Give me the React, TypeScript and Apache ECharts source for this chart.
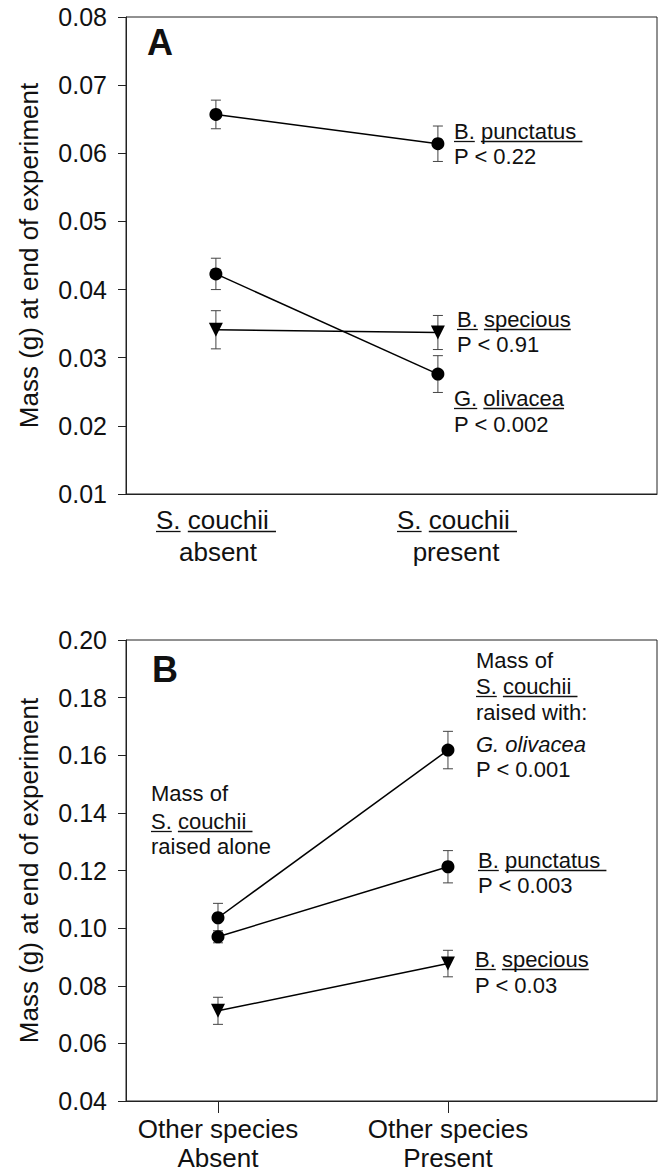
import React, { useEffect, useRef } from "react";
import * as echarts from "echarts";

// ---------- DATA ----------
// Panel A: mass of other species (g), S. couchii absent (x=1) / present (x=2)
const punctatusA = [0.0657, 0.0614];
const punctatusAErr = [0.0021, 0.0026];
const olivaceaA = [0.0423, 0.0276];
const olivaceaAErr = [0.0023, 0.0027];
const speciousA = [0.0341, 0.0337];
const speciousAErr = [0.0028, 0.0025];

// Panel B: mass of S. couchii (g), other species absent (x=1) / present (x=2)
const olivaceaB = [0.1036, 0.1618];
const olivaceaBErr = [0.005, 0.0065];
const punctatusB = [0.097, 0.1213];
const punctatusBErr = [0.0021, 0.0056];
const speciousB = [0.0713, 0.0877];
const speciousBErr = [0.0047, 0.0046];

const categoryX = [1, 2];
const categoriesB = ["Other species\nAbsent", "Other species\nPresent"];
const categoriesA = [
  { genus: "S.", species: "couchii ", state: "absent" },
  { genus: "S.", species: "couchii ", state: "present" },
];
const yTicksA = { min: 0.01, max: 0.08, step: 0.01 };
const yTicksB = { min: 0.04, max: 0.2, step: 0.02 };
const yTitle = "Mass (g) at end of experiment";

const FONT = '"Liberation Sans", Arial, Helvetica, sans-serif';
const INK = "#111";
const ANN = 22;

let ctx: CanvasRenderingContext2D | null = null;
function measure(text: string, font: string): number {
  if (!ctx) ctx = document.createElement("canvas").getContext("2d");
  if (!ctx) return text.length * 10;
  ctx.font = font;
  return ctx.measureText(text).width;
}

function fontStr(size: number, opts: { bold?: boolean; italic?: boolean } = {}) {
  return `${opts.italic ? "italic " : ""}${opts.bold ? "bold " : ""}${size}px ${FONT}`;
}

// text whose left edge is x and baseline is y
function textEl(text: string, x: number, baseline: number, size: number, opts: any = {}) {
  return {
    type: "text",
    silent: true,
    x,
    y: baseline - 0.347 * size,
    style: {
      text,
      font: fontStr(size, opts),
      fill: INK,
      align: "left",
      verticalAlign: "middle",
      textAlign: "left",
      textVerticalAlign: "middle",
    },
  };
}

// parts: [text, underlined]
function lineWithUnderlines(parts: [string, boolean][], x: number, baseline: number, size: number, opts: any = {}) {
  const els: any[] = [];
  let cx = x;
  const f = fontStr(size, opts);
  parts.forEach(([t, u]) => {
    const w = measure(t, f);
    els.push(textEl(t, cx, baseline, size, opts));
    if (u) {
      els.push({
        type: "line",
        silent: true,
        shape: { x1: cx, y1: baseline + 2.5, x2: cx + w, y2: baseline + 2.5 },
        style: { stroke: INK, lineWidth: 1.3 },
      });
    }
    cx += w;
  });
  return els;
}

function centeredUnderlined(parts: [string, boolean][], center: number, baseline: number, size: number) {
  const f = fontStr(size);
  const total = parts.reduce((s, [t]) => s + measure(t, f), 0);
  return lineWithUnderlines(parts, center - total / 2, baseline, size);
}

function centeredText(text: string, center: number, baseline: number, size: number) {
  const w = measure(text, fontStr(size));
  return textEl(text, center - w / 2, baseline, size);
}

function errData(vals: number[], errs: number[]) {
  return vals.map((v, i) => [categoryX[i], v - errs[i], v + errs[i]]);
}
function ptData(vals: number[]) {
  return vals.map((v, i) => [categoryX[i], v]);
}

function errSeries(vals: number[], errs: number[], gi: number) {
  return {
    type: "custom",
    xAxisIndex: gi,
    yAxisIndex: gi,
    silent: true,
    z: 1,
    encode: { x: 0, y: [1, 2] },
    data: errData(vals, errs),
    renderItem: (params: any, api: any) => {
      const x = api.value(0);
      const lo = api.coord([x, api.value(1)]);
      const hi = api.coord([x, api.value(2)]);
      const w = 5;
      const st = { stroke: "#444", lineWidth: 1 };
      return {
        type: "group",
        children: [
          { type: "line", shape: { x1: hi[0], y1: hi[1], x2: lo[0], y2: lo[1] }, style: st },
          { type: "line", shape: { x1: hi[0] - w, y1: hi[1], x2: hi[0] + w, y2: hi[1] }, style: st },
          { type: "line", shape: { x1: lo[0] - w, y1: lo[1], x2: lo[0] + w, y2: lo[1] }, style: st },
        ],
      };
    },
  };
}

function lineSeries(name: string, vals: number[], gi: number, tri: boolean) {
  return {
    name,
    type: "line",
    xAxisIndex: gi,
    yAxisIndex: gi,
    z: 3,
    data: ptData(vals),
    symbol: tri ? "triangle" : "circle",
    symbolRotate: tri ? 180 : 0,
    symbolSize: tri ? 14 : 13,
    lineStyle: { color: "#000", width: 1.5 },
    itemStyle: { color: "#000" },
    silent: true,
  };
}

function yAxis(gi: number, t: { min: number; max: number; step: number }, nameGap: number) {
  return {
    type: "value",
    gridIndex: gi,
    min: t.min,
    max: t.max,
    interval: t.step,
    name: yTitle,
    nameLocation: "middle",
    nameRotate: 90,
    nameGap,
    nameTextStyle: { fontFamily: FONT, fontSize: 26, color: INK },
    axisLine: { show: true, lineStyle: { color: "#222", width: 1 } },
    axisTick: { show: true, inside: false, length: 8, lineStyle: { color: "#222", width: 1 } },
    axisLabel: {
      margin: 19,
      fontFamily: FONT,
      fontSize: 25,
      color: INK,
      formatter: (v: number) => v.toFixed(2),
    },
    splitLine: { show: false },
  };
}

export default function App() {
  const ref = useRef<HTMLDivElement>(null);
  useEffect(() => {
    if (!ref.current) return;
    const chart = echarts.init(ref.current, null, { renderer: "svg" });

    const graphics: any[] = [
      textEl("A", 147, 55, 36, { bold: true }),
      textEl("B", 152, 682, 36, { bold: true }),
      // Panel A x labels
      ...centeredUnderlined([[categoriesA[0].genus, true], [" ", false], [categoriesA[0].species, true]], 216, 529, 26),
      centeredText(categoriesA[0].state, 218, 561, 26),
      ...centeredUnderlined([[categoriesA[1].genus, true], [" ", false], [categoriesA[1].species, true]], 457, 529, 26),
      centeredText(categoriesA[1].state, 456, 561, 26),
      // Panel A annotations
      ...lineWithUnderlines([["B.", true], [" ", false], ["punctatus ", true]], 454, 139, ANN),
      textEl("P < 0.22", 454, 164, ANN),
      ...lineWithUnderlines([["B.", true], [" ", false], ["specious", true]], 457, 327, ANN),
      textEl("P < 0.91", 457, 352, ANN),
      ...lineWithUnderlines([["G.", true], [" ", false], ["olivacea", true]], 454, 406, ANN),
      textEl("P < 0.002", 454, 432, ANN),
      // Panel B annotations (right)
      textEl("Mass of", 476, 668, ANN),
      ...lineWithUnderlines([["S.", true], [" ", false], ["couchii ", true]], 476, 694, ANN),
      textEl("raised with:", 476, 720, ANN),
      textEl("G. olivacea", 476, 752, ANN, { italic: true }),
      textEl("P < 0.001", 476, 777, ANN),
      // Panel B annotations (left)
      textEl("Mass of", 151, 801, ANN),
      ...lineWithUnderlines([["S.", true], [" ", false], ["couchii ", true]], 151, 829, ANN),
      textEl("raised alone", 151, 854, ANN),
      ...lineWithUnderlines([["B.", true], [" ", false], ["punctatus ", true]], 478, 868, ANN),
      textEl("P < 0.003", 478, 893, ANN),
      ...lineWithUnderlines([["B.", true], [" ", false], ["specious", true]], 475, 967, ANN),
      textEl("P < 0.03", 475, 993, ANN),
    ];

    chart.setOption({
      animation: false,
      backgroundColor: "#fff",
      textStyle: { fontFamily: FONT },
      grid: [
        { left: 126, top: 17, width: 531, height: 477, show: true, borderColor: "#222", borderWidth: 1, backgroundColor: "transparent" },
        { left: 126, top: 640, width: 531, height: 461, show: true, borderColor: "#222", borderWidth: 1, backgroundColor: "transparent" },
      ],
      xAxis: [
        {
          type: "value",
          gridIndex: 0,
          min: 0.595,
          max: 2.987,
          axisLine: { show: true, lineStyle: { color: "#222", width: 1 } },
          axisTick: { show: false },
          axisLabel: { show: false },
          splitLine: { show: false },
        },
        {
          type: "value",
          gridIndex: 1,
          min: 0.6,
          max: 2.909,
          axisLine: { show: true, lineStyle: { color: "#222", width: 1 } },
          axisTick: { show: true, inside: false, length: 12, customValues: categoryX, lineStyle: { color: "#222", width: 1 } },
          axisLabel: {
            show: true,
            customValues: categoryX,
            margin: 13,
            fontFamily: FONT,
            fontSize: 26,
            lineHeight: 29,
            color: INK,
            formatter: (v: number) => categoriesB[Math.round(v) - 1] ?? "",
          },
          splitLine: { show: false },
        },
      ],
      yAxis: [yAxis(0, yTicksA, 84), yAxis(1, yTicksB, 84)],
      series: [
        errSeries(punctatusA, punctatusAErr, 0),
        errSeries(olivaceaA, olivaceaAErr, 0),
        errSeries(speciousA, speciousAErr, 0),
        lineSeries("B. punctatus", punctatusA, 0, false),
        lineSeries("G. olivacea", olivaceaA, 0, false),
        lineSeries("B. specious", speciousA, 0, true),
        errSeries(olivaceaB, olivaceaBErr, 1),
        errSeries(punctatusB, punctatusBErr, 1),
        errSeries(speciousB, speciousBErr, 1),
        lineSeries("G. olivacea", olivaceaB, 1, false),
        lineSeries("B. punctatus", punctatusB, 1, false),
        lineSeries("B. specious", speciousB, 1, true),
      ],
      graphic: { elements: graphics },
    });

    return () => chart.dispose();
  }, []);

  return (
    <div
      ref={ref}
      style={{ position: "absolute", left: 0, top: 0, width: 664, height: 1174 }}
    />
  );
}
